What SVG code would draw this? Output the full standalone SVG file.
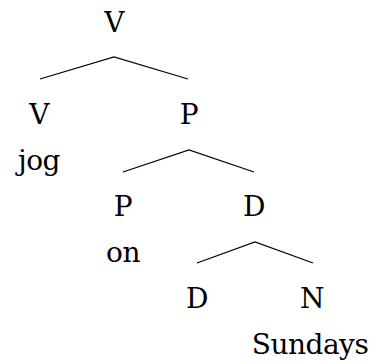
<svg xmlns="http://www.w3.org/2000/svg" width="375" height="364" viewBox="0 0 375 364">
<style>
.t{font-size:28px;fill:#000;text-anchor:middle;font-family:'DejaVu Serif',serif;letter-spacing:-0.5px}
.e{stroke:#000;stroke-width:1.2;fill:none}
</style>
<rect width="375" height="364" fill="#fff"/>
<g id="edges">
<polyline class="e" points="40,79 114,57 188,79"/>
<polyline class="e" points="123,172 189,150 254,172"/>
<polyline class="e" points="197,263 255,242 313,263"/>
</g>
<g class="t">
<g id="n-V-root"><text x="114" y="32">V</text></g>
<g id="n-V"><text x="39" y="124">V</text><text x="39" y="170">jog</text></g>
<g id="n-P-top"><text x="189" y="124">P</text></g>
<g id="n-P"><text x="123" y="216">P</text><text x="123" y="262">on</text></g>
<g id="n-D-top"><text x="254" y="216">D</text></g>
<g id="n-D"><text x="197" y="308">D</text></g>
<g id="n-N"><text x="312" y="308">N</text><text x="310" y="354">Sundays</text></g>
</g>
</svg>
